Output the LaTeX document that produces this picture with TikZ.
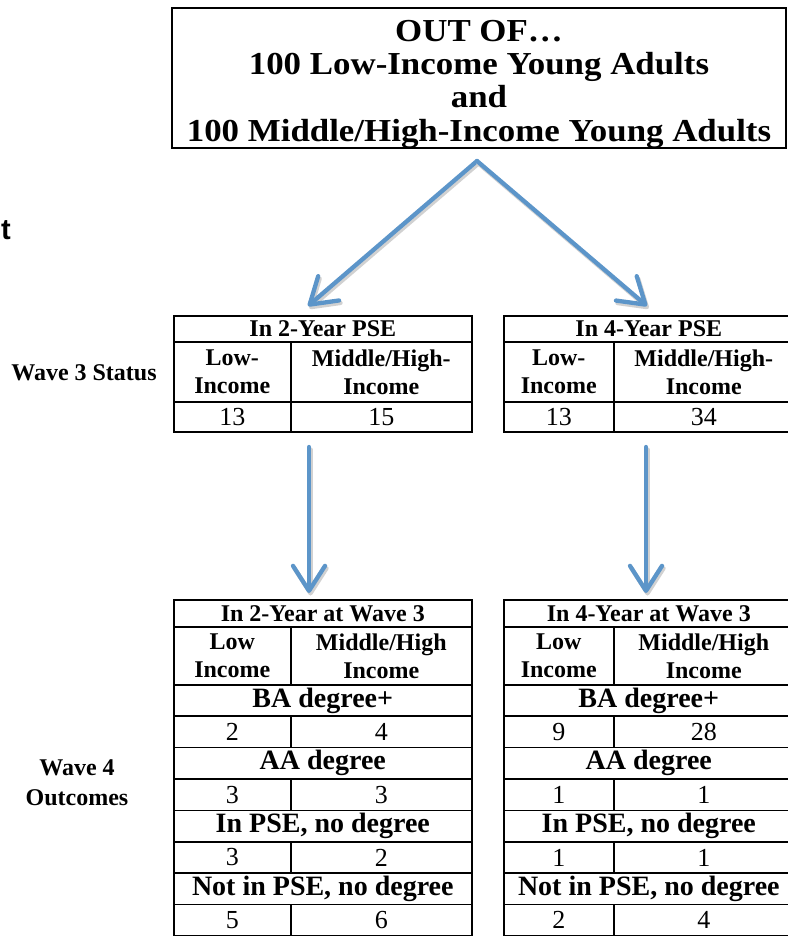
\documentclass[tikz,border=0pt]{standalone}
\usepackage{fontspec}
\setmainfont{Liberation Serif}
\newfontfamily\sidesans{Liberation Sans}
\newfontfamily\widefont[FakeStretch=1.09]{Liberation Serif}
\usetikzlibrary{arrows.meta,positioning,calc}
\definecolor{arrblue}{HTML}{5C95C9}
\tikzset{
  topbox/.style={draw=black,line width=1.5pt,inner sep=0pt,minimum width=614,minimum height=140},
  toptext/.style={inner sep=0pt,align=center,font=\widefont\fontsize{32}{33.3}\selectfont\bfseries},
  cell/.style={draw=black,line width=1.6pt,inner sep=0pt,anchor=north west,align=center,font=\fontsize{24}{28}\selectfont\bfseries},
  labcell/.style={cell,font=\fontsize{28}{30}\selectfont\bfseries},
  numcell/.style={cell,font=\fontsize{26}{28}\selectfont},
  side/.style={align=center,font=\fontsize{24}{30}\selectfont\bfseries},
  arr/.style={draw=arrblue,line width=4.3pt,line cap=round,-{Straight Barb[length=25pt,width=32pt,round]}},
  arrshadow/.style={arr,draw=black!18,transform canvas={shift={(1.5pt,-2.5pt)}}},
}
% one Wave 4 table: name, left, split, right, years, rows
\newcommand\wavefour[6]{%
  \node[cell,minimum width=#4-#2,minimum height=27] (#1-head) at (#2,599) {In #5-Year at Wave 3};
  \node[cell,minimum width=#3-#2,minimum height=58] (#1-lo) at (#2,626) {Low\\Income};
  \node[cell,minimum width=#4-#3,minimum height=58] (#1-hi) at (#3,626) {Middle/High\\Income};
  \foreach \lab/\a/\b [count=\k from 0] in {#6}{
    \node[labcell,minimum width=#4-#2,minimum height=31.4] (#1-lab\k) at (#2,684+62.8*\k) {\lab};
    \node[numcell,minimum width=#3-#2,minimum height=31.4] (#1-a\k) at (#2,715.4+62.8*\k) {\a};
    \node[numcell,minimum width=#4-#3,minimum height=31.4] (#1-b\k) at (#3,715.4+62.8*\k) {\b};
  }%
}

\begin{document}
\begin{tikzpicture}[x=1pt,y=-1pt]
\useasboundingbox (0,0) rectangle (787,936);

\node[topbox] (out) at (479,78) {};
\node[toptext] (outtext) at (479,84) {OUT OF…\\100 Low-Income Young Adults\\and\\100 Middle/High-Income Young Adults};
\node[anchor=base west,inner sep=0pt,font=\sidesans\bfseries\fontsize{29}{30}\selectfont] (cut) at (1,239) {t};

% Wave 3 status
\foreach \p/\xl/\xs/\xr/\pse/\nlo/\nhi in {two/173/290/471/2/13/15, four/503/613/793/4/13/34}{
  \node[cell,minimum width=\xr-\xl,minimum height=26] (\p-head) at (\xl,315) {In \pse-Year PSE};
  \node[cell,minimum width=\xs-\xl,minimum height=60] (\p-lo) at (\xl,341) {Low-\\Income};
  \node[cell,minimum width=\xr-\xs,minimum height=60] (\p-hi) at (\xs,341) {Middle/High-\\Income};
  \node[numcell,minimum width=\xs-\xl,minimum height=30] (\p-n1) at (\xl,401) {\nlo};
  \node[numcell,minimum width=\xr-\xs,minimum height=30] (\p-n2) at (\xs,401) {\nhi};
}
\node[side] (w3) at (84,373) {Wave 3 Status};

% Wave 4 outcomes
\wavefour{twoB}{173}{290}{471}{2}{BA degree+/2/4, AA degree/3/3, {In PSE, no degree}/3/2, {Not in PSE, no degree}/5/6}
\wavefour{fourB}{503}{613}{793}{4}{BA degree+/9/28, AA degree/1/1, {In PSE, no degree}/1/1, {Not in PSE, no degree}/2/4}
\node[side] (w4) at (77,783) {Wave 4\\Outcomes};

% arrows
\coordinate (apex) at (477,161);
\coordinate (tipL) at (308,306);
\coordinate (tipR) at (647,306);
\coordinate (twoS) at (309,447);
\coordinate (twoT) at (309,593);
\coordinate (fourS) at (646,447);
\coordinate (fourT) at (646,593);
\foreach \s/\t in {apex/tipL, apex/tipR, twoS/twoT, fourS/fourT}{
  \draw[arrshadow] (\s) -- (\t);
  \draw[arr] (\s) -- (\t);
}
\end{tikzpicture}
\end{document}
